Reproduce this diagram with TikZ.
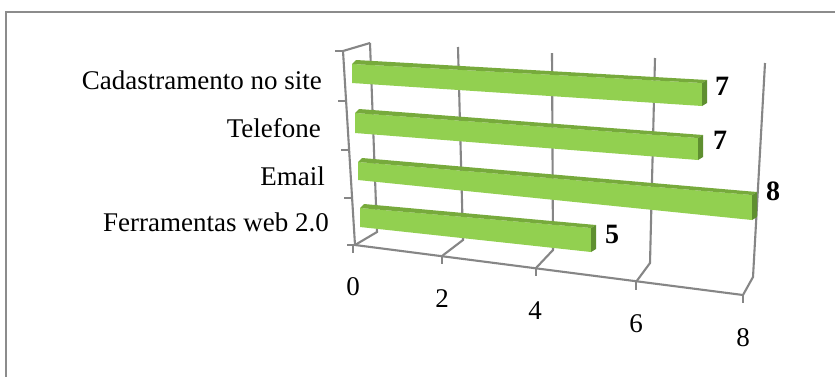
\documentclass[tikz,border=0pt]{standalone}
\usepackage{fontspec}
\setmainfont{Liberation Serif}
\definecolor{gridgray}{HTML}{868686}
\definecolor{framegray}{HTML}{8C8C8C}
\definecolor{barfront}{HTML}{92D050}
\definecolor{bartop}{HTML}{77AA3C}
\definecolor{barend}{HTML}{5F8F30}
\newcommand\greenbar[6]{%
  \fill[barfront] (#1,#2) -- (#4,#5) -- (#4,#6) -- (#1,#3) -- cycle;
  \fill[bartop] (#1,#2) -- (#1+4,#2-4) -- (#4+5,#5-3) -- (#4,#5) -- cycle;
  \fill[barend] (#4,#5) -- (#4+5,#5-3) -- (#4+5,#6-3) -- (#4,#6) -- cycle;
}
\begin{document}
\begin{tikzpicture}[x=1pt,y=-1pt,
  gridline/.style={draw=gridgray,line width=2.1pt},
  catlabel/.style={anchor=base east,inner sep=0pt,font=\fontsize{27}{30}\selectfont},
  numlabel/.style={anchor=base,inner sep=0pt,font=\fontsize{27}{30}\selectfont},
  vallabel/.style={anchor=base,inner sep=0pt,font=\fontsize{28}{30}\selectfont\bfseries}]
\useasboundingbox (0,0) rectangle (835,376);
\fill[white] (0,0) rectangle (835,376);
\draw[draw=framegray,line width=2.3pt] (6,377) -- (6,12) -- (836,12);
% back wall gridlines
\draw[gridline] (370,43) -- (377,232) -- (355,245);
\draw[gridline] (458,47) -- (463,240) -- (442,256);
\draw[gridline] (552,53) -- (553,250) -- (536,268);
\draw[gridline] (655,58) -- (650,263) -- (636,282);
\draw[gridline] (765,63) -- (753,277) -- (743,295);
% left wall
\draw[gridline] (370,43) -- (343,51) -- (355,245);
\foreach \ty/\tx in {51/343,101/346,150/349,198/352,245/355}
  \draw[gridline] (\tx-8,\ty) -- (\tx,\ty);
% floor front edge and ticks
\draw[gridline] (355,245) -- (743,295);
\foreach \tx/\ty in {353/245,442/256,536/268,636/282,743/295}
  \draw[gridline] (\tx,\ty) -- (\tx,\ty+8);
% bars
\greenbar{352}{64}{83}{702}{83}{106}
\greenbar{355}{113}{133}{698}{138}{160}
\greenbar{358}{162}{180}{752}{195}{220}
\greenbar{360}{208}{227}{591}{228}{252}
% labels
\node[catlabel] (c1) at (322,89) {Cadastramento no site};
\node[catlabel] (c2) at (321,137) {Telefone};
\node[catlabel] (c3) at (325,185) {Email};
\node[catlabel] (c4) at (329,231) {Ferramentas web 2.0};
\node[numlabel] (n0) at (353,295) {0};
\node[numlabel] (n2) at (442,307) {2};
\node[numlabel] (n4) at (535,319) {4};
\node[numlabel] (n6) at (636,332) {6};
\node[numlabel] (n8) at (743,346) {8};
\node[vallabel] (v1) at (722,95) {7};
\node[vallabel] (v2) at (720,149) {7};
\node[vallabel] (v3) at (773,200) {8};
\node[vallabel] (v4) at (612,243) {5};
\end{tikzpicture}
\end{document}
